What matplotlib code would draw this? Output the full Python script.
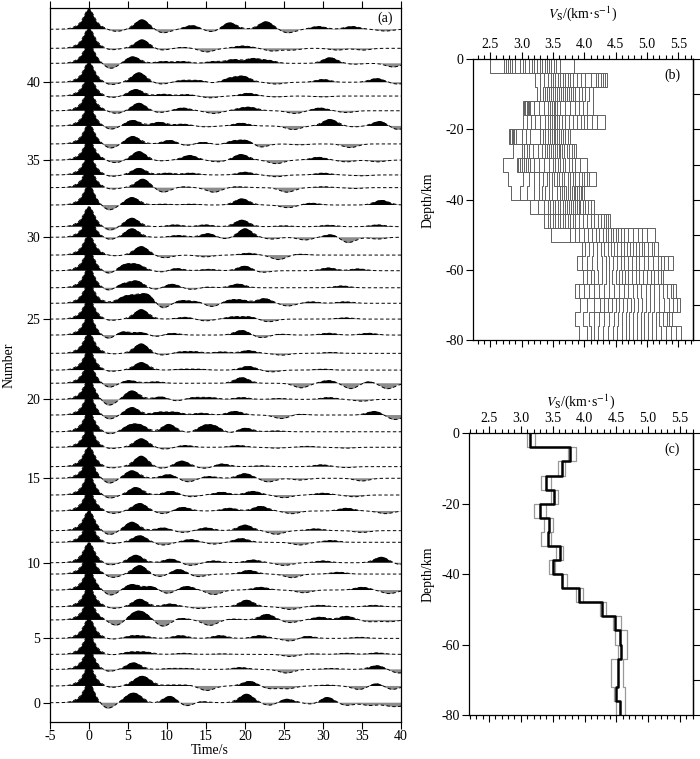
import numpy as np
import matplotlib
matplotlib.use("Agg")
import matplotlib.pyplot as plt
from matplotlib.ticker import MultipleLocator, NullFormatter, FormatStrFormatter

plt.rcParams['font.family'] = ['Liberation Serif', 'DejaVu Serif']
plt.rcParams['mathtext.fontset'] = 'stix'
plt.rcParams['axes.unicode_minus'] = False
plt.rcParams['font.size'] = 10

# ---------------- data: receiver functions (a) ----------------
# vertical level of each trace baseline (bottom -> top), in "Number" units
trace_level = [0.00, 1.08, 2.15, 3.12, 4.15, 5.34, 6.19, 7.27, 8.30, 9.03,
               10.35, 11.10, 12.37, 13.40, 14.48, 15.23, 16.48, 17.48, 18.56, 19.57,
               20.61, 21.46, 22.54, 23.72, 24.75, 25.77, 26.77, 27.87, 28.88, 30.03,
               30.71, 32.11, 33.23, 34.05, 35.01, 36.05, 37.21, 38.19, 39.14, 40.03,
               41.25, 42.22, 43.45]
number_tick_trace = [0, 4, 9, 14, 19, 24, 29, 34, 39]
number_tick_label = [0, 5, 10, 15, 20, 25, 30, 35, 40]
time_ticks = [-5, 0, 5, 10, 15, 20, 25, 30, 35, 40]

# later arrivals (time s, amplitude relative to direct P) of each trace
rf00 = [(2.3, -0.35), (5.2, 0.3), (6.2, 0.3), (8.2, -0.05), (10.4, 0.35), (12.5, -0.2), (14.2, 0.08),
        (20.2, 0.45), (23.2, -0.15), (25.3, 0.2), (28.8, -0.1), (30.5, 0.3), (33.0, -0.15),
        (36.0, -0.15), (38.5, -0.15), (40.0, -0.15)]
rf01 = [(2.7, -0.1), (6.2, 0.25), (7.2, 0.35), (10.5, 0.05), (12.5, 0.05), (15.1, -0.25), (20.6, 0.25),
        (23.2, -0.15), (25.5, -0.15), (30.5, 0.05), (34.7, -0.2), (36.9, 0.15), (38.8, -0.2)]
rf02 = [(2.3, -0.15), (5.7, 0.35), (10.5, 0.05), (12.5, 0.05), (19.4, 0.1), (25.3, -0.2), (31.0, 0.05),
        (36.9, 0.2), (39.7, -0.2)]
rf03 = [(2.5, -0.05), (5.3, 0.12), (7.2, 0.12), (12.1, 0.06), (17.0, 0.03), (25.8, -0.12), (28.5, 0.03),
        (33.0, 0.06), (36.9, 0.08)]
rf04 = [(2.7, -0.06), (5.5, 0.12), (7.0, 0.1), (11.7, 0.15), (16.8, 0.15), (21.9, 0.15), (25.8, -0.15),
        (27.9, 0.12), (34.7, 0.06)]
rf05 = [(3.5, -0.3), (5.8, 0.3), (7.0, 0.3), (9.5, -0.35), (11.7, 0.1), (15.5, -0.3), (18.5, 0.05),
        (22.8, 0.3), (25.8, -0.15), (29.6, 0.15), (33.0, 0.2), (36.0, -0.1), (38.5, -0.1)]
rf06 = [(3.1, -0.1), (6.5, 0.4), (10.4, 0.15), (14.2, -0.1), (20.2, 0.35), (25.8, -0.15), (29.6, 0.08),
        (36.5, 0.08)]
rf07 = [(2.7, -0.3), (5.5, 0.3), (8.0, 0.2), (10.0, -0.2), (12.5, 0.2), (16.0, -0.25), (22.0, 0.15),
        (27.5, -0.15), (35.0, 0.15), (38.5, -0.2)]
rf08 = [(3.0, -0.2), (6.5, 0.45), (9.0, -0.15), (11.5, 0.25), (14.0, -0.15), (20.5, 0.2), (26.0, -0.2),
        (32.0, 0.1)]
rf09 = [(2.5, -0.15), (6.0, 0.4), (10.5, 0.2), (13.0, -0.15), (16.0, 0.1), (21.0, 0.15), (25.0, -0.15),
        (30.0, 0.1), (37.5, 0.3), (39.8, -0.1)]
rf10 = [(2.6, -0.1), (6.5, 0.35), (9.5, -0.15), (13.0, 0.15), (16.0, -0.1), (19.5, 0.2), (27.0, -0.15),
        (31.0, 0.1)]
rf11 = [(2.5, -0.25), (5.5, 0.45), (9.5, 0.15), (12.0, -0.1), (15.0, 0.15), (20.0, 0.3), (24.0, -0.2),
        (29.0, 0.1), (35.0, -0.1)]
rf12 = [(3.0, -0.15), (6.5, 0.4), (9.5, -0.15), (12.0, 0.2), (18.0, 0.15), (22.0, 0.25), (26.0, -0.15),
        (33.0, 0.15), (38.0, -0.15)]
rf13 = [(2.5, -0.2), (6.0, 0.4), (10.5, 0.2), (13.0, -0.1), (17.0, 0.15), (21.0, 0.2), (25.0, -0.15),
        (30.0, 0.1), (34.0, -0.1)]
rf14 = [(2.5, -0.3), (5.5, 0.4), (10.2, 0.2), (12.7, -0.2), (15.3, 0.1), (20.0, 0.25), (23.0, -0.2),
        (27.0, -0.1), (35.0, -0.15)]
rf15 = [(2.5, -0.1), (6.7, 0.55), (9.3, -0.1), (11.9, 0.3), (14.9, -0.1), (17.0, 0.15), (22.0, 0.05),
        (29.8, 0.1), (33.0, -0.05)]
rf16 = [(2.5, -0.1), (6.7, 0.45), (9.7, -0.1), (12.3, 0.1), (19.1, 0.1), (24.0, -0.05), (28.0, 0.05),
        (33.0, -0.05)]
rf17 = [(2.5, -0.15), (5.2, 0.3), (6.7, 0.3), (8.5, -0.05), (10.2, 0.4), (12.7, -0.05), (14.8, 0.3),
        (16.3, 0.25), (17.9, -0.1), (20.0, 0.2), (24.0, 0.05)]
rf18 = [(2.5, -0.25), (5.5, 0.4), (9.0, 0.15), (11.0, 0.15), (14.4, 0.1), (18.7, 0.2), (24.7, -0.2),
        (26.8, 0.05), (36.6, 0.2), (39.2, -0.25)]
rf19 = [(2.5, -0.35), (5.5, 0.45), (9.3, 0.15), (11.0, -0.1), (13.5, 0.1), (15.5, 0.1), (19.6, 0.1),
        (24.3, 0.05), (30.7, 0.1), (35.0, -0.1)]
rf20 = [(2.5, -0.25), (5.1, 0.15), (8.5, 0.08), (19.6, 0.3), (27.2, -0.25), (30.7, 0.15), (33.6, -0.3),
        (35.8, 0.1), (38.3, -0.3)]
rf21 = [(2.5, -0.1), (6.7, 0.4), (12.0, 0.05), (14.0, 0.05), (20.4, 0.2), (23.4, -0.1), (30.0, 0.05)]
rf22 = [(2.6, -0.05), (6.7, 0.5), (9.3, -0.1), (11.9, 0.08), (13.6, 0.08), (17.0, 0.08), (20.4, 0.15),
        (24.7, -0.1), (31.0, 0.05)]
rf23 = [(2.5, -0.25), (4.2, 0.2), (6.7, 0.15), (8.5, -0.1), (10.6, 0.1), (19.6, 0.25), (22.1, -0.15),
        (24.5, 0.05), (30.7, 0.1), (35.8, 0.1)]
rf24 = [(2.5, -0.1), (6.7, 0.5), (12.3, 0.1), (14.9, -0.1), (18.5, 0.12), (20.5, 0.12), (23.0, -0.15),
        (32.8, 0.07)]
rf25 = [(4.5, 0.3), (6.0, 0.3), (7.6, 0.45), (9.3, -0.3), (11.9, 0.15), (14.0, 0.1), (15.7, -0.2),
        (18.0, 0.15), (19.6, 0.15), (22.5, 0.25), (25.5, -0.15), (28.5, 0.08), (32.8, 0.08)]
rf26 = [(2.5, -0.2), (4.2, 0.2), (6.1, 0.35), (8.5, -0.1), (10.6, 0.2), (13.2, -0.1), (14.9, 0.05),
        (19.1, 0.2), (32.4, 0.1)]
rf27 = [(2.5, -0.2), (4.5, 0.3), (6.2, 0.3), (9.7, -0.1), (11.0, 0.15), (15.3, 0.08), (20.0, 0.25),
        (22.1, -0.1), (30.7, 0.15), (34.5, 0.1)]
rf28 = [(3.0, -0.05), (6.7, 0.45), (9.7, -0.15), (14.9, -0.1), (20.4, 0.1), (24.3, -0.25), (27.0, 0.05)]
rf29 = [(2.5, -0.15), (5.5, 0.45), (11.4, 0.1), (15.3, 0.2), (17.4, -0.1), (20.0, 0.45), (23.4, -0.1),
        (27.7, -0.15), (31.1, 0.15), (33.2, -0.3), (37.0, -0.1)]
rf30 = [(2.5, -0.2), (5.5, 0.45), (11.0, 0.1), (14.9, 0.1), (19.6, 0.35), (25.0, 0.05), (30.7, 0.08),
        (37.0, 0.1)]
rf31 = [(2.5, -0.3), (5.5, 0.4), (9.5, 0.05), (13.0, 0.05), (19.6, 0.33), (25.5, -0.15), (28.5, 0.1),
        (37.5, 0.25)]
rf32 = [(2.7, -0.1), (6.9, 0.45), (9.5, -0.25), (12.0, 0.05), (16.0, -0.25), (19.0, 0.05), (25.4, -0.25),
        (30.0, 0.05), (34.0, -0.05)]
rf33 = [(2.7, -0.1), (6.4, 0.35), (10.0, 0.1), (13.0, 0.1), (20.0, 0.15), (24.0, -0.1), (30.0, 0.1),
        (35.0, -0.05)]
rf34 = [(3.3, -0.15), (6.4, 0.45), (9.0, -0.05), (12.9, 0.25), (16.5, -0.1), (19.5, 0.3), (24.0, -0.2),
        (29.4, 0.15), (33.0, -0.1), (37.0, -0.1)]
rf35 = [(2.7, -0.25), (5.6, 0.4), (10.4, 0.2), (12.4, -0.1), (14.6, 0.1), (16.5, -0.05), (18.5, 0.15),
        (20.3, 0.2), (21.9, -0.2), (27.0, -0.05), (33.5, -0.2)]
rf36 = [(2.7, -0.2), (5.6, 0.3), (9.0, 0.2), (12.0, 0.1), (15.0, -0.05), (19.5, 0.15), (26.2, -0.2),
        (30.9, 0.35), (34.0, -0.05), (37.3, 0.25), (39.5, -0.2)]
rf37 = [(3.5, -0.15), (6.4, 0.4), (9.0, -0.1), (12.0, 0.15), (16.0, -0.15), (19.5, 0.1), (20.8, 0.15),
        (26.4, -0.15), (29.6, 0.15), (33.0, -0.1)]
rf38 = [(2.7, -0.1), (6.0, 0.35), (9.5, 0.1), (12.5, 0.08), (15.5, -0.1), (20.4, 0.15), (24.0, -0.05),
        (30.0, -0.05)]
rf39 = [(2.7, -0.15), (6.4, 0.5), (9.3, -0.1), (12.0, 0.1), (14.0, 0.1), (16.0, -0.05), (18.0, 0.2),
        (19.8, 0.3), (24.0, -0.1), (30.0, 0.15), (36.9, 0.2), (39.5, -0.1)]
rf40 = [(2.7, -0.3), (5.6, 0.35), (9.5, 0.1), (12.0, 0.1), (16.0, 0.1), (18.5, 0.2), (21.0, 0.25),
        (23.0, 0.15), (30.9, 0.3), (34.0, -0.05), (39.0, -0.2)]
rf41 = [(2.7, -0.1), (6.8, 0.45), (9.3, -0.1), (12.0, 0.05), (15.1, -0.2), (19.4, 0.1), (20.6, 0.05),
        (23.5, -0.15), (26.0, -0.1), (31.8, -0.1), (35.1, -0.1)]
rf42 = [(3.5, -0.12), (6.8, 0.5), (9.5, -0.2), (13.2, 0.2), (15.8, -0.15), (18.0, 0.35), (22.7, 0.4),
        (25.5, -0.2), (29.4, 0.15), (33.7, 0.15), (38.0, -0.1)]
rf_traces = [rf00, rf01, rf02, rf03, rf04, rf05, rf06, rf07, rf08, rf09, rf10, rf11, rf12, rf13, rf14,
             rf15, rf16, rf17, rf18, rf19, rf20, rf21, rf22, rf23, rf24, rf25, rf26, rf27, rf28, rf29,
             rf30, rf31, rf32, rf33, rf34, rf35, rf36, rf37, rf38, rf39, rf40, rf41, rf42]

# ---------------- data: inverted velocity models (b), one list per 4-km layer ----------------
layer_bounds = [0, 4, 8, 12, 16, 20, 24, 28, 32, 36, 40, 44, 48, 52, 56, 60, 64, 68, 72, 76, 80]
vb01 = [2.50, 2.72, 2.75, 2.78, 2.82, 2.85, 2.90, 2.97, 3.02, 3.06, 3.12, 3.16, 3.20, 3.25, 3.29, 3.33,
        3.37, 3.40, 3.44, 3.47, 3.51, 3.55, 3.62, 3.83]
vb02 = [3.22, 3.30, 3.36, 3.42, 3.47, 3.50, 3.53, 3.58, 3.62, 3.66, 3.70, 3.74, 3.78, 3.82, 3.88, 3.95,
        4.02, 4.10, 4.18, 4.22, 4.26, 4.30, 4.33, 4.36]
vb03 = [3.24, 3.30, 3.35, 3.38, 3.41, 3.44, 3.47, 3.50, 3.53, 3.56, 3.60, 3.63, 3.66, 3.70, 3.73, 3.76,
        3.79, 3.82, 3.86, 3.92, 3.96, 4.02, 4.08, 4.14]
vb04 = [3.02, 3.04, 3.06, 3.08, 3.10, 3.12, 3.14, 3.20, 3.28, 3.36, 3.42, 3.45, 3.48, 3.51, 3.54, 3.57,
        3.62, 3.70, 3.78, 3.85, 3.92, 3.98, 4.05, 4.14]
vb05 = [3.02, 3.08, 3.15, 3.22, 3.30, 3.38, 3.42, 3.45, 3.48, 3.51, 3.54, 3.57, 3.60, 3.65, 3.70, 3.76,
        3.82, 3.88, 3.95, 3.99, 4.05, 4.12, 4.20, 4.33]
vb06 = [2.80, 2.82, 2.84, 2.86, 2.88, 2.91, 3.00, 3.07, 3.14, 3.30, 3.34, 3.38, 3.42, 3.45, 3.48, 3.51,
        3.54, 3.57, 3.60, 3.63, 3.66, 3.70, 3.74, 3.78]
vb07 = [2.86, 3.00, 3.04, 3.08, 3.12, 3.18, 3.26, 3.32, 3.37, 3.41, 3.44, 3.47, 3.50, 3.53, 3.56, 3.59,
        3.62, 3.65, 3.68, 3.72, 3.76, 3.80, 3.83, 3.87]
vb08 = [2.70, 2.92, 2.95, 2.98, 3.01, 3.04, 3.07, 3.10, 3.14, 3.20, 3.28, 3.36, 3.44, 3.50, 3.54, 3.58,
        3.62, 3.66, 3.70, 3.75, 3.80, 3.86, 3.94, 4.04]
vb09 = [2.78, 3.02, 3.12, 3.20, 3.28, 3.35, 3.40, 3.44, 3.48, 3.52, 3.56, 3.60, 3.64, 3.68, 3.74, 3.78,
        3.82, 3.86, 3.92, 3.96, 4.00, 4.04, 4.08, 4.18]
vb10 = [2.83, 2.97, 3.08, 3.20, 3.28, 3.33, 3.38, 3.43, 3.48, 3.56, 3.62, 3.65, 3.68, 3.71, 3.74, 3.77,
        3.80, 3.83, 3.86, 3.89, 3.92, 3.95, 3.97, 3.99]
vb11 = [3.14, 3.26, 3.36, 3.42, 3.46, 3.50, 3.54, 3.58, 3.62, 3.66, 3.70, 3.73, 3.76, 3.79, 3.82, 3.85,
        3.88, 3.91, 3.94, 3.98, 4.02, 4.06, 4.10, 4.15]
vb12 = [3.36, 3.42, 3.46, 3.50, 3.54, 3.58, 3.62, 3.66, 3.70, 3.74, 3.78, 3.82, 3.86, 3.92, 3.98, 4.04,
        4.10, 4.16, 4.22, 4.27, 4.31, 4.35, 4.38, 4.41]
vb13 = [3.47, 3.78, 3.85, 3.92, 4.00, 4.06, 4.12, 4.18, 4.24, 4.30, 4.34, 4.38, 4.42, 4.46, 4.50, 4.54,
        4.58, 4.64, 4.70, 4.78, 4.85, 4.92, 5.00, 5.13]
vb14 = [3.96, 4.02, 4.08, 4.14, 4.20, 4.26, 4.32, 4.38, 4.43, 4.48, 4.53, 4.58, 4.63, 4.68, 4.73, 4.78,
        4.83, 4.88, 4.92, 4.96, 5.02, 5.08, 5.12, 5.17]
vb15 = [3.88, 3.96, 4.04, 4.12, 4.20, 4.28, 4.34, 4.40, 4.46, 4.52, 4.58, 4.64, 4.70, 4.76, 4.82, 4.88,
        4.95, 5.02, 5.10, 5.18, 5.22, 5.28, 5.34, 5.41]
vb16 = [3.98, 4.04, 4.10, 4.16, 4.22, 4.28, 4.34, 4.40, 4.45, 4.50, 4.55, 4.60, 4.65, 4.70, 4.76, 4.82,
        4.88, 4.94, 5.00, 5.06, 5.12, 5.17, 5.22, 5.26]
vb17 = [3.85, 3.92, 4.00, 4.08, 4.16, 4.24, 4.32, 4.40, 4.48, 4.56, 4.63, 4.70, 4.77, 4.84, 4.91, 4.98,
        5.05, 5.12, 5.20, 5.26, 5.32, 5.38, 5.42, 5.46]
vb18 = [3.93, 4.05, 4.15, 4.25, 4.32, 4.38, 4.44, 4.50, 4.56, 4.62, 4.68, 4.74, 4.80, 4.86, 4.92, 4.98,
        5.05, 5.12, 5.20, 5.28, 5.35, 5.42, 5.48, 5.52]
vb19 = [3.85, 3.98, 4.08, 4.16, 4.24, 4.32, 4.40, 4.47, 4.54, 4.60, 4.66, 4.72, 4.78, 4.84, 4.90, 4.96,
        5.02, 5.08, 5.14, 5.20, 5.26, 5.32, 5.36, 5.40]
vb20 = [3.92, 4.05, 4.10, 4.16, 4.22, 4.30, 4.38, 4.46, 4.53, 4.60, 4.66, 4.72, 4.78, 4.84, 4.90, 4.96,
        5.02, 5.08, 5.15, 5.22, 5.30, 5.38, 5.46, 5.55]
vb_layers = [vb01, vb02, vb03, vb04, vb05, vb06, vb07, vb08, vb09, vb10,
             vb11, vb12, vb13, vb14, vb15, vb16, vb17, vb18, vb19, vb20]

# ---------------- data: mean model (c) ----------------
vc_mean = [3.14, 3.77, 3.64, 3.39, 3.52, 3.30, 3.44, 3.42, 3.61, 3.50,
           3.65, 3.91, 4.27, 4.48, 4.55, 4.58, 4.53, 4.53, 4.50, 4.55]
vc_high = [3.23, 3.86, 3.70, 3.48, 3.58, 3.39, 3.51, 3.48, 3.67, 3.53,
           3.72, 3.97, 4.33, 4.58, 4.66, 4.66, 4.60, 4.61, 4.63, 4.63]
vc_low = [3.09, 3.74, 3.58, 3.32, 3.48, 3.21, 3.36, 3.32, 3.56, 3.45,
          3.64, 3.87, 4.24, 4.45, 4.48, 4.53, 4.41, 4.42, 4.46, 4.49]

# ---------------- figure ----------------
W, H = 700, 759
fig = plt.figure(figsize=(W / 100, H / 100), dpi=100)


def box(l, t, r, b):
    return [l / W, 1 - b / H, (r - l) / W, (b - t) / H]


# ---- (a) ----
axa = fig.add_axes(box(50, 8, 401, 722))
t = np.arange(-5, 40.0001, 0.04)
gain = 1.29


def rf_wave(arrivals, widen, sig_sec, scale):
    # direct P: sharp-topped pulse with a broad base
    y = 0.55 * np.exp(-0.5 * (t / (0.5 * widen)) ** 2) + 0.45 * np.exp(-0.5 * (t / (1.1 * widen)) ** 2)
    for tc, a in arrivals:
        y = y + scale * a * np.exp(-0.5 * ((t - tc) / sig_sec) ** 2)
    return y


for lev, arr in zip(trace_level, rf_traces):
    y = rf_wave(arr, 1.0, 0.85, 1.0)
    ys = rf_wave(arr, 1.06, 0.95, 0.9)
    axa.fill_between(t, lev, lev + gain * y, where=y > 0, color='black', lw=0, interpolate=True)
    axa.fill_between(t, lev, lev + gain * y, where=y < 0, color='0.55', lw=0, interpolate=True)
    axa.plot(t, lev + gain * ys, color='black', lw=0.7, ls=(0, (3.5, 2.5)))

axa.set_xlim(-5, 40)
axa.set_ylim(-1.245, 44.82)
axa.set_xticks(time_ticks)
axa.set_xticklabels([str(v) for v in time_ticks])
axa.set_yticks([trace_level[i] for i in number_tick_trace])
axa.set_yticklabels([str(v) for v in number_tick_label])
axa.tick_params(axis='x', which='both', top=True, bottom=True, direction='out', length=5, width=0.8,
                labelsize=10, pad=1)
axa.tick_params(axis='y', which='both', left=True, right=False, direction='out', length=5, width=0.8,
                labelsize=10, pad=2)
for s in axa.spines.values():
    s.set_linewidth(0.9)
fig.text(9 / W, 1 - 365 / H, 'Number', rotation=90, ha='center', va='center', fontsize=10)
fig.text(210 / W, 1 - 751 / H, 'Time/s', ha='center', va='center', fontsize=10)
fig.text(385 / W, 1 - 18 / H, '(a)', ha='center', va='center', fontsize=10)

vs_label = r'$V_{\rm S}$/(km·s$^{-1}$)'


def style_vel_axis(ax, xlim):
    ax.set_xlim(*xlim)
    ax.set_ylim(-80, 0)
    ax.xaxis.set_major_locator(MultipleLocator(0.5))
    ax.xaxis.set_minor_locator(MultipleLocator(0.1))
    ax.xaxis.set_major_formatter(FormatStrFormatter('%.1f'))
    ax.yaxis.set_major_locator(MultipleLocator(20))
    ax.yaxis.set_major_formatter(FormatStrFormatter('%d'))
    ax.tick_params(axis='x', which='major', top=True, bottom=True, labeltop=True, labelbottom=False,
                   direction='out', length=5, width=0.8, labelsize=10, pad=1)
    ax.tick_params(axis='x', which='minor', top=True, bottom=True, direction='out', length=3, width=0.8)
    ax.tick_params(axis='y', which='both', left=True, right=False, direction='out', length=5, width=0.8,
                   labelsize=10, pad=2)
    sec = ax.secondary_yaxis('right')
    sec.yaxis.set_major_locator(MultipleLocator(10))
    sec.yaxis.set_major_formatter(NullFormatter())
    sec.tick_params(axis='y', direction='out', length=5, width=0.8)
    sec.spines['right'].set_linewidth(0.9)
    for s in ax.spines.values():
        s.set_linewidth(0.9)


bounds = np.array(layer_bounds, dtype=float)
ys_step = -np.repeat(bounds, 2)[1:-1]

# ---- (b) ----
axb = fig.add_axes(box(473.3, 59.3, 693.3, 340))
n_models = len(vb01)
for m in range(n_models):
    v = [layer[m] for layer in vb_layers]
    axb.plot(np.repeat(v, 2), ys_step, color='0.38', lw=0.7)
style_vel_axis(axb, (2.23, 5.74))
fig.text(583 / W, 1 - 14 / H, vs_label, ha='center', va='center', fontsize=10)
fig.text(428 / W, 1 - 200 / H, 'Depth/km', rotation=90, ha='center', va='center', fontsize=10)
fig.text(672 / W, 1 - 75 / H, '(b)', ha='center', va='center', fontsize=10)

# ---- (c) ----
axc = fig.add_axes(box(469.3, 433.3, 692.7, 715))
axc.plot(np.repeat(vc_low, 2), ys_step, color='0.6', lw=0.9)
axc.plot(np.repeat(vc_high, 2), ys_step, color='0.6', lw=0.9)
axc.plot(np.repeat(vc_mean, 2), ys_step, color='black', lw=1.8)
style_vel_axis(axc, (2.19, 5.70))
fig.text(581 / W, 1 - 402 / H, vs_label, ha='center', va='center', fontsize=10)
fig.text(428 / W, 1 - 574 / H, 'Depth/km', rotation=90, ha='center', va='center', fontsize=10)
fig.text(672 / W, 1 - 449 / H, '(c)', ha='center', va='center', fontsize=10)

fig.savefig('out.png', dpi=100)
